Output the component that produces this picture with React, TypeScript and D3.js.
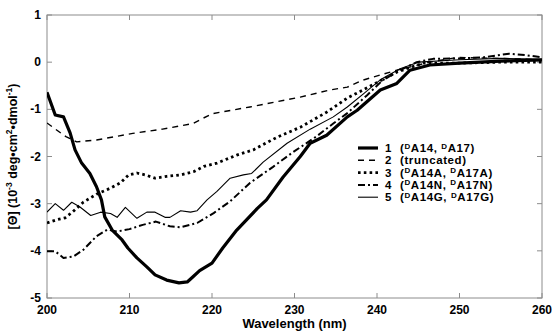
import * as d3 from "d3";

// wavelength (nm) / mean residue ellipticity (10^-3 deg cm2 dmol-1)
const wave1 = [200, 201, 202, 202.8, 203.4, 204.2, 205.2, 206, 206.6, 207, 207.9, 209.1, 209.8, 210.9, 212.1, 213.1, 214.5, 216, 217, 217.7, 218.5, 220, 221.3, 223, 225.5, 226.6, 228.6, 230.7, 231.9, 233.9, 236.4, 237.6, 240.4, 242.4, 244, 246.4, 250, 255, 260];
const theta1 = [-0.64, -1.12, -1.16, -1.5, -1.86, -2.14, -2.36, -2.64, -2.92, -3.28, -3.56, -3.77, -3.94, -4.15, -4.34, -4.51, -4.62, -4.68, -4.66, -4.55, -4.42, -4.26, -3.94, -3.56, -3.1, -2.92, -2.44, -2.0, -1.72, -1.55, -1.16, -1.02, -0.59, -0.45, -0.17, -0.06, -0.02, 0.02, 0.05];

const wave2 = [200, 202.3, 203.6, 206, 210.4, 214, 217.7, 218.9, 220.1, 224.6, 230.7, 234.3, 236.4, 238.3, 242.4, 246.4, 249.7, 255, 260];
const theta2 = [-1.29, -1.58, -1.69, -1.65, -1.51, -1.42, -1.3, -1.19, -1.09, -0.95, -0.74, -0.59, -0.53, -0.38, -0.17, 0.0, 0.1, 0.08, 0.05];

const wave3 = [200, 201.2, 202.2, 203.2, 204.4, 206, 207.7, 208.9, 209.9, 210.9, 211.9, 213.1, 214.5, 216.2, 217.8, 219, 220.6, 223, 225, 227.9, 230.7, 233.9, 236.4, 238.3, 242.4, 245.6, 250, 255, 260];
const theta3 = [-3.41, -3.34, -3.3, -3.16, -2.97, -2.8, -2.67, -2.56, -2.39, -2.35, -2.39, -2.46, -2.42, -2.39, -2.32, -2.21, -2.14, -1.97, -1.86, -1.59, -1.38, -1.06, -0.76, -0.59, -0.21, -0.02, -0.02, 0.0, 0.0];

const wave4 = [200, 201, 202, 203.2, 204.4, 206, 207.3, 208.5, 210, 211.6, 213.2, 214.9, 216.2, 218.2, 220.2, 222.2, 224.6, 227.4, 229.8, 232.7, 234.7, 236.4, 238.8, 240.7, 242.8, 244.8, 246.8, 250, 252.8, 256, 258, 260];
const theta4 = [-4.01, -4.01, -4.15, -4.12, -3.98, -3.69, -3.55, -3.59, -3.54, -3.45, -3.38, -3.48, -3.5, -3.41, -3.2, -2.95, -2.56, -2.22, -1.91, -1.57, -1.3, -1.08, -0.7, -0.38, -0.17, 0.0, 0.07, 0.08, 0.1, 0.18, 0.15, 0.1];

const wave5 = [200, 201, 202, 203, 204, 205.3, 206.5, 207.7, 208.5, 209.5, 210.9, 212.1, 213.1, 214.3, 214.9, 216.2, 217.4, 218.2, 219.4, 220.6, 222.2, 223.8, 224.8, 226.2, 229.1, 231.9, 234.7, 236.4, 238.5, 240.5, 242.8, 245, 250, 255, 260];
const theta5 = [-3.18, -3.0, -3.14, -2.97, -3.07, -3.25, -3.18, -3.21, -3.29, -3.08, -3.31, -3.18, -3.18, -3.29, -3.29, -3.15, -3.18, -3.15, -2.92, -2.74, -2.46, -2.39, -2.36, -2.12, -1.72, -1.42, -1.16, -0.95, -0.65, -0.36, -0.14, 0.0, 0.05, 0.08, 0.06];

const xTicks = [200, 210, 220, 230, 240, 250, 260];
const yTicks = [1, 0, -1, -2, -3, -4, -5];

// label number, then the text that follows the superscript D's
const legendNames = ["1", "2", "3", "4", "5"];
const legendParts = [["A14, ", "A17)"], null, ["A14A, ", "A17A)"], ["A14N, ", "A17N)"], ["A14G, ", "A17G)"]];

const W = 552;
const H = 332;
const m = { left: 47, right: 10, top: 15, bottom: 34 };

const styles = [
  { width: 3.2, dash: "" },
  { width: 1.4, dash: "6,5" },
  { width: 2.8, dash: "2.6,3.2" },
  { width: 2.0, dash: "7,3,2,3" },
  { width: 1.1, dash: "" },
];

const App = () => {
  const x = d3.scaleLinear().domain([200, 260]).range([m.left, W - m.right]);
  const y = d3.scaleLinear().domain([-5, 1]).range([H - m.bottom, m.top]);

  const series = [
    d3.zip(wave1, theta1),
    d3.zip(wave2, theta2),
    d3.zip(wave3, theta3),
    d3.zip(wave4, theta4),
    d3.zip(wave5, theta5),
  ];

  const line = d3
    .line<number[]>()
    .x((d) => x(d[0]))
    .y((d) => y(d[1]))
    .curve(d3.curveLinear);

  const x0 = x.range()[0];
  const x1 = x.range()[1];
  const y0 = y.range()[0];
  const y1 = y.range()[1];
  const tick = 5;
  const font = "'Liberation Sans', Arial, sans-serif";

  const legX = 358;
  const legY = 148;
  const legStep = 12.3;

  return (
    <div style={{ position: "absolute", left: 0, top: 0 }}>
      <svg width={W} height={H} style={{ display: "block", background: "#fff" }} fontFamily={font}>
        <defs>
          <clipPath id="plot">
            <rect x={x0} y={y1} width={x1 - x0} height={y0 - y1} />
          </clipPath>
        </defs>

        {/* axis box with inward ticks */}
        <rect x={x0} y={y1} width={x1 - x0} height={y0 - y1} fill="none" stroke="#8c8c8c" strokeWidth={1} />
        {xTicks.map((t) => (
          <g key={"xt" + t} stroke="#8c8c8c">
            <line x1={x(t)} x2={x(t)} y1={y0} y2={y0 - tick} />
            <line x1={x(t)} x2={x(t)} y1={y1} y2={y1 + tick} />
          </g>
        ))}
        {yTicks.map((t) => (
          <g key={"yt" + t} stroke="#8c8c8c">
            <line x1={x0} x2={x0 + tick} y1={y(t)} y2={y(t)} />
            <line x1={x1} x2={x1 - tick} y1={y(t)} y2={y(t)} />
          </g>
        ))}

        {/* tick labels */}
        {xTicks.map((t) => (
          <text key={"xl" + t} x={x(t)} y={y0 + 16} textAnchor="middle" fontSize={12} fontWeight="bold">
            {t}
          </text>
        ))}
        {yTicks.map((t) => (
          <text key={"yl" + t} x={x0 - 6} y={y(t) + 4} textAnchor="end" fontSize={12} fontWeight="bold">
            {t}
          </text>
        ))}

        {/* axis titles */}
        <text x={(x0 + x1) / 2} y={H - 4} textAnchor="middle" fontSize={13} fontWeight="bold">
          Wavelength (nm)
        </text>
        <text
          transform={`translate(${17},${(y0 + y1) / 2}) rotate(-90)`}
          textAnchor="middle"
          fontSize={12.5}
          fontWeight="bold"
        >
          [Θ] (10<tspan dy={-5} fontSize={8.5}>-3</tspan>
          <tspan dy={5}> deg•cm</tspan>
          <tspan dy={-5} fontSize={8.5}>2</tspan>
          <tspan dy={5}>•dmol</tspan>
          <tspan dy={-5} fontSize={8.5}>-1</tspan>
          <tspan dy={5}>)</tspan>
        </text>

        {/* curves */}
        <g clipPath="url(#plot)" fill="none" stroke="#000">
          {series.map((s, i) => (
            <path
              key={"s" + i}
              d={line(s) || ""}
              strokeWidth={styles[i].width}
              strokeDasharray={styles[i].dash || undefined}
              strokeLinejoin="round"
            />
          ))}
        </g>

        {/* legend */}
        {legendNames.map((n, i) => {
          const ly = legY + i * legStep;
          const parts = legendParts[i];
          return (
            <g key={"lg" + i}>
              <line
                x1={legX}
                x2={legX + 20}
                y1={ly}
                y2={ly}
                stroke="#000"
                strokeWidth={styles[i].width}
                strokeDasharray={styles[i].dash || undefined}
              />
              <text
                x={legX + 27}
                y={ly + 4}
                fontSize={11.5}
                fontWeight="bold"
                letterSpacing={0.6}
                xmlSpace="preserve"
              >
                {n}
                <tspan x={legX + 42}>(</tspan>
                {parts ? (
                  <>
                    <tspan dy={-3.5} fontSize={8}>D</tspan>
                    <tspan dy={3.5}>{parts[0]}</tspan>
                    <tspan dy={-3.5} fontSize={8}>D</tspan>
                    <tspan dy={3.5}>{parts[1]}</tspan>
                  </>
                ) : (
                  <tspan>truncated)</tspan>
                )}
              </text>
            </g>
          );
        })}
      </svg>
    </div>
  );
};

export default App;
